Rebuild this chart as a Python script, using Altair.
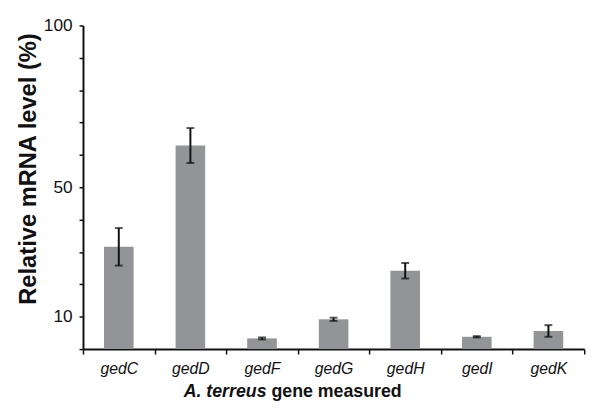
import altair as alt
import pandas as pd

genes = ["gedC", "gedD", "gedF", "gedG", "gedH", "gedI", "gedK"]
means = [31.6, 62.9, 3.3, 9.2, 24.2, 3.8, 5.6]
errs = [5.8, 5.4, 0.3, 0.5, 2.4, 0.2, 1.8]
y_ticks = [0, 10, 20, 30, 40, 50, 60, 70, 80, 90, 100]
y_labels = [10, 50, 100]

df = pd.DataFrame({"gene": genes, "mean": means, "err": errs})
df["lo"] = df["mean"] - df["err"]
df["hi"] = df["mean"] + df["err"]

FONT = "Liberation Sans"

x_axis = alt.Axis(
    title=None,
    tickBand="extent",
    labelAngle=0,
    labelFont=FONT,
    labelFontSize=16,
    labelFontStyle="italic",
    labelColor="#111",
    labelPadding=7,
    tickSize=5,
    tickWidth=1.5,
    tickColor="#111",
    domainColor="#111",
    domainWidth=2,
)
x_scale = alt.Scale(paddingInner=0, paddingOuter=0)

y_axis = alt.Axis(
    title="Relative mRNA level (%)",
    values=y_ticks,
    labelExpr="indexof([%s], datum.value) >= 0 ? datum.label : ''" % ",".join(str(v) for v in y_labels),
    labelOverlap=False,
    labelFlush=False,
    labelFont=FONT,
    labelFontSize=17.5,
    labelColor="#111",
    labelPadding=7,
    tickSize=4,
    tickWidth=1.5,
    tickColor="#111",
    domainColor="#111",
    domainWidth=2,
    grid=False,
    titleFont=FONT,
    titleFontSize=24,
    titleFontWeight="bold",
    titleColor="#111",
    titleAngle=270,
    titleX=-55,
    titleY=145,
    titleAlign="center",
    titleBaseline="middle",
)
y_scale = alt.Scale(domain=[0, 100], nice=False)


def xe():
    return alt.X("gene:N", sort=genes, scale=x_scale, axis=x_axis)


def ye(field):
    return alt.Y(field, scale=y_scale, axis=y_axis, title="Relative mRNA level (%)")


base = alt.Chart(df)

bars = base.mark_bar(width=30, color="#929497").encode(x=xe(), y=ye("mean:Q"))

rules = base.mark_rule(color="#111", strokeWidth=2).encode(
    x=xe(), y=ye("lo:Q"), y2="hi:Q"
)
caps_lo = base.mark_tick(color="#111", thickness=2, size=8).encode(
    x=xe(), y=ye("lo:Q")
)
caps_hi = base.mark_tick(color="#111", thickness=2, size=8).encode(
    x=xe(), y=ye("hi:Q")
)

t1 = alt.Chart(pd.DataFrame({"t": ["A. terreus"]})).mark_text(
    font=FONT, fontSize=18, fontWeight="bold", fontStyle="italic",
    align="right", baseline="alphabetic", color="#111"
).encode(text="t:N", x=alt.value(186), y=alt.value(377))
t2 = alt.Chart(pd.DataFrame({"t": ["gene measured"]})).mark_text(
    font=FONT, fontSize=18, fontWeight="bold",
    align="left", baseline="alphabetic", color="#111"
).encode(text="t:N", x=alt.value(191), y=alt.value(377))

chart = alt.layer(bars, rules, caps_lo, caps_hi, t1, t2).properties(
    width=508,
    height=328,
    autosize=alt.AutoSizeParams(type="none"),
    padding={"left": 76, "top": 15, "right": 16, "bottom": 56},
).configure_view(stroke=None)

chart.save("out.html", embed_options={"renderer": "svg", "actions": False})
